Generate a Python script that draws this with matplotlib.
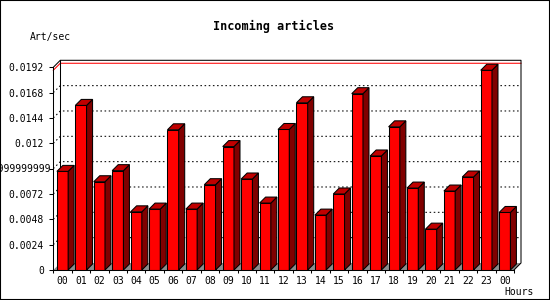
import numpy as np
import matplotlib
matplotlib.use('Agg')
import matplotlib.pyplot as plt
from matplotlib.patches import Polygon, Rectangle
from matplotlib.transforms import ScaledTranslation

# data
hours = ['00', '01', '02', '03', '04', '05', '06', '07', '08', '09', '10', '11',
         '12', '13', '14', '15', '16', '17', '18', '19', '20', '21', '22', '23', '00']
art_per_sec = [0.00934, 0.01559, 0.00836, 0.00941, 0.00551, 0.00577, 0.01328, 0.00577,
               0.00808, 0.01169, 0.00862, 0.00634, 0.01331, 0.01584, 0.00520, 0.00720,
               0.01670, 0.01080, 0.01356, 0.00776, 0.00387, 0.00748, 0.00881, 0.01892,
               0.00545]
y_ticks = [0, 0.0024, 0.0048, 0.0072, 0.0096, 0.012, 0.0144, 0.0168, 0.0192]
y_tick_labels = ['0', '0.0024', '0.0048', '0.0072', '0.009599999999999999',
                 '0.012', '0.0144', '0.0168', '0.0192']

DPI = 100
DEPTH = 7       # depth of the 3d frame in pixels
BAR_DEPTH = 6   # depth of the bars in pixels
LW = 0.75

plt.rcParams['font.family'] = 'DejaVu Sans Mono'

fig = plt.figure(figsize=(5.5, 3), dpi=DPI)
ax = fig.add_axes([53.3 / 550, 30 / 300, (514 - 53.3) / 550, (270 - 67.3) / 300])
ax.patch.set_visible(False)

x = np.arange(len(hours))
x0, x1 = -0.5, len(hours) - 0.5
ytop = y_ticks[-1]
ax.set_xlim(x0, x1)
ax.set_ylim(0, ytop)

# pixel depth -> data units
ux = (x1 - x0) / ax.bbox.width
uy = ytop / ax.bbox.height
dx, dy = DEPTH * ux, DEPTH * uy
bdx, bdy = BAR_DEPTH * ux, BAR_DEPTH * uy

# gray floor of the 3d box
ax.add_patch(Polygon([(x0, 0), (x1, 0), (x1 + dx, dy), (x0 + dx, dy)],
                     fc='#8c8c8c', ec='none', zorder=1, clip_on=False))

# dotted grid on the back plane
for t in y_ticks[1:-1]:
    ax.plot([x0, x0 + dx, x1 + dx], [t, t + dy, t + dy], color='black', lw=LW,
            ls=(0, (1.5, 2.5)), zorder=2, clip_on=False)

# red line at the max value
vmax = max(art_per_sec)
ax.plot([x0, x0 + dx, x1 + dx], [vmax, vmax + dy, vmax + dy], color='red', lw=LW,
        zorder=2, clip_on=False)

# back frame
ax.plot([x0, x0 + dx, x1 + dx, x1 + dx, x1], [ytop, ytop + dy, ytop + dy, dy, 0],
        color='black', lw=LW, zorder=2, clip_on=False)
ax.plot([x0 + dx, x0 + dx], [dy, ytop + dy], color='black', lw=LW, zorder=2, clip_on=False)

# bars: front faces, then side and top faces
bw = 0.61
ax.bar(x, art_per_sec, width=bw, color='#ff0000', edgecolor='black', lw=LW, zorder=4)
for xi, v in zip(x, art_per_sec):
    xl, xr = xi - bw / 2, xi + bw / 2
    ax.add_patch(Polygon([(xr, 0), (xr, v), (xr + bdx, v + bdy), (xr + bdx, bdy)],
                         fc='#800000', ec='black', lw=LW, zorder=4, clip_on=False))
    ax.add_patch(Polygon([(xl, v), (xr, v), (xr + bdx, v + bdy), (xl + bdx, v + bdy)],
                         fc='#c00000', ec='black', lw=LW, zorder=4, clip_on=False))

# front axes
for side in ['top', 'right']:
    ax.spines[side].set_visible(False)
for side in ['left', 'bottom']:
    ax.spines[side].set_linewidth(LW)
    ax.spines[side].set_zorder(5)

labels = list(y_tick_labels)
long_label = labels[4]
labels[4] = ''
ax.set_yticks(y_ticks, labels)
ax.tick_params(axis='y', direction='out', length=2.9, width=LW, pad=3.8, labelsize=7)
ax.text(x0, y_ticks[4], long_label, ha='right', va='center', fontsize=7, clip_on=False,
        transform=ax.transData + ScaledTranslation(-2.3 / DPI, 0, fig.dpi_scale_trans))

ax.set_xticks(x, hours)
ax.set_xticks(np.arange(x0, x1 + 0.5), minor=True)
ax.tick_params(axis='x', which='major', length=0, pad=4.2, labelsize=7)
ax.tick_params(axis='x', which='minor', direction='out', length=2.4, width=LW)

# titles
fig.text(274 / 550, 1 - 26.7 / 300, 'Incoming articles', ha='center', va='center',
         fontsize=8.5, fontweight='bold')
fig.text(30 / 550, 1 - 36.7 / 300, 'Art/sec', ha='left', va='center', fontsize=7)
fig.text(504 / 550, 1 - 292 / 300, 'Hours', ha='left', va='center', fontsize=7)

# border round the image
fig.add_artist(Rectangle((0, 0), 1, 1, transform=fig.transFigure, fill=False,
                         ec='black', lw=1.5))

fig.savefig('out.png', dpi=DPI)
